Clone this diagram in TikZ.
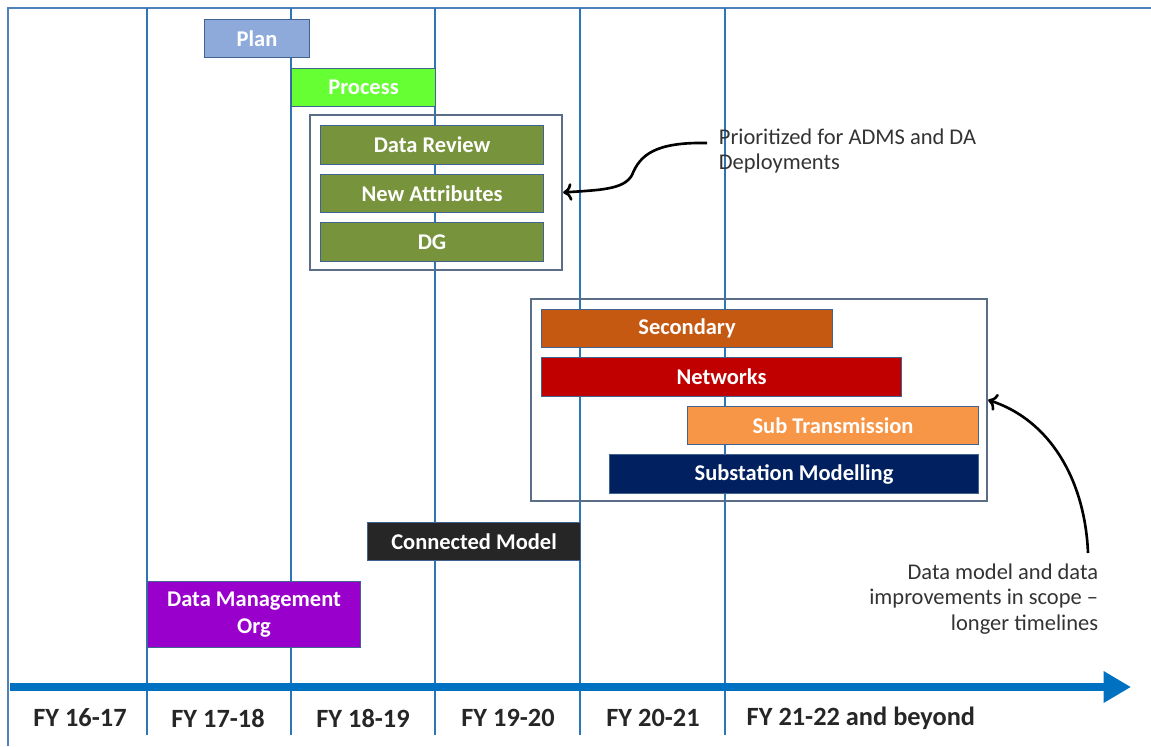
\documentclass[tikz,border=0pt]{standalone}
\usepackage{xcolor}
\usepackage{fontspec}
\setmainfont{Carlito}
\usepackage{tikz}
\usetikzlibrary{arrows.meta,fit}

\definecolor{frameblue}{HTML}{4F81BD}
\definecolor{lineblue}{HTML}{2E75B6}
\definecolor{axisblue}{HTML}{0070C0}
\definecolor{plancol}{HTML}{8EAADB}
\definecolor{processcol}{HTML}{66FF33}
\definecolor{olivecol}{HTML}{77933C}
\definecolor{secondarycol}{HTML}{C65911}
\definecolor{networkcol}{HTML}{C00000}
\definecolor{subtranscol}{HTML}{F79646}
\definecolor{substationcol}{HTML}{002060}
\definecolor{connectedcol}{HTML}{262626}
\definecolor{orgcol}{HTML}{9900CC}
\definecolor{groupcol}{HTML}{5A6E88}
\definecolor{barline}{HTML}{41638F}
\definecolor{notecol}{HTML}{333333}

\begin{document}
\begin{tikzpicture}[x=0.02cm, y=-0.02cm, line width=1pt,
  taskbar/.style={draw=barline, line width=0.6pt, inner sep=0pt, anchor=north west, text=white, font=\bfseries\fontsize{12.8}{15}\selectfont},
  barsize/.style 2 args={minimum width=#1*0.02cm, minimum height=#2*0.02cm},
  groupbox/.style={draw=groupcol, line width=1.3pt, inner sep=0pt},
  fy/.style={font=\bfseries\fontsize{15}{18}\selectfont, text=black!85},
  notetext/.style={font=\fontsize{12.8}{14.5}\selectfont, text=notecol, inner sep=0pt},
  notearrow/.style={-{To[length=5pt,width=10pt]}, line width=1.5pt}]
\useasboundingbox (0,0) rectangle (1151,746);

\draw[frameblue, line width=1.2pt] (8,746) -- (8,8) -- (1151,8);

\draw[lineblue, line width=1.5pt] (147,8) -- (147,735);
\draw[lineblue, line width=1.5pt] (291,8) -- (291,735);
\draw[lineblue, line width=1.5pt] (435,8) -- (435,735);
\draw[lineblue, line width=1.5pt] (580,8) -- (580,735);
\draw[lineblue, line width=1.5pt] (725,8) -- (725,735);

\draw[axisblue, line width=4pt, -{Triangle[length=0.55cm,width=0.6cm]}] (10,687) -- (1131,687);

\node[fy] (fy1617) at (80,718) {FY 16-17};
\node[fy] (fy1718) at (218,718) {FY 17-18};
\node[fy] (fy1819) at (363,718) {FY 18-19};
\node[fy] (fy1920) at (508,718) {FY 19-20};
\node[fy] (fy2021) at (653,718) {FY 20-21};
\node[fy, anchor=west] (fy2122) at (740,718) {FY 21-22 and beyond};

\node[taskbar, fill=plancol, barsize={105}{38}] (plan) at (204,19) {Plan};
\node[taskbar, fill=processcol, barsize={144}{38}] (process) at (291,68) {Process};

\node[groupbox, fit={(310,115) (562,270)}] (grpA) {};
\node[taskbar, fill=olivecol, barsize={223}{39}] (review) at (320,125) {Data Review};
\node[taskbar, fill=olivecol, barsize={223}{38}] (attrib) at (320,174) {New Attributes};
\node[taskbar, fill=olivecol, barsize={223}{39}] (dg) at (320,222) {DG};

\node[groupbox, fit={(531,299) (987,501)}] (grpB) {};
\node[taskbar, fill=secondarycol, barsize={291}{38}] (secondary) at (541,309) {Secondary};
\node[taskbar, fill=networkcol, barsize={360}{39}] (networks) at (541,357) {Networks};
\node[taskbar, fill=subtranscol, barsize={291}{38}] (subtrans) at (687,406) {Sub Transmission};
\node[taskbar, fill=substationcol, barsize={369}{39}] (substation) at (609,454) {Substation Modelling};

\node[taskbar, fill=connectedcol, barsize={213}{38}] (connected) at (367,522) {Connected Model};
\node[taskbar, fill=orgcol, align=center, barsize={213}{66}] (dmorg) at (147,581) {Data Management\\Org};

\node[notetext, anchor=north west, align=left] (prio) at (718,128) {Prioritized for ADMS and DA\\Deployments};
\coordinate (prioTail) at (707,143);
\draw[notearrow] (prioTail) .. controls (655,142) and (640,155) .. (632,175) .. controls (624,190) and (598,190) .. (grpA.east);

\node[notetext, anchor=north east, align=right] (scope) at (1099,563) {Data model and data\\improvements in scope --\\longer timelines};
\coordinate (scopeTail) at (1088,553);
\draw[notearrow] (scopeTail) .. controls (1085,480) and (1050,420) .. (grpB.east);
\end{tikzpicture}
\end{document}
